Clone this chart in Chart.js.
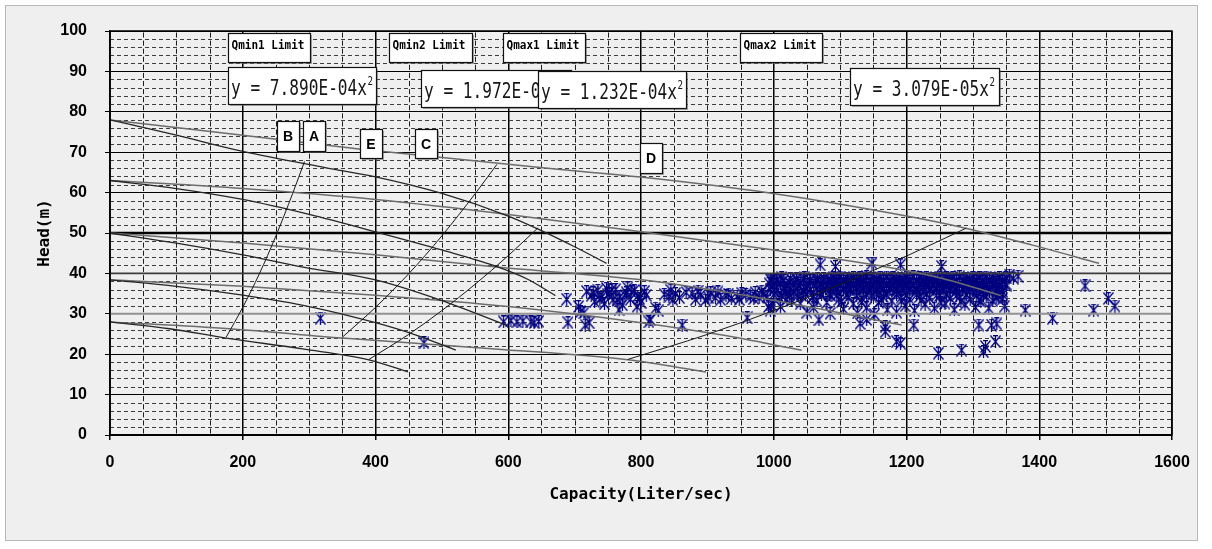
<!DOCTYPE html>
<html>
<head>
<meta charset="utf-8">
<title>Pump operating points</title>
<script src="https://cdn.jsdelivr.net/npm/chart.js@4.4.1/dist/chart.umd.min.js"></script>
<style>
  html, body { margin: 0; padding: 0; background: #fff; }
  #wrap { width: 1212px; height: 549px; position: relative; }
</style>
</head>
<body>
<div id="wrap"><canvas id="pumpChart"></canvas></div>
<script>
// axes: capacity (l/s) on x, head (m) on y
const capacityTicks = [0, 200, 400, 600, 800, 1000, 1200, 1400, 1600];
const headTicks = [0, 10, 20, 30, 40, 50, 60, 70, 80, 90, 100];

// pump curves, one pump and two pumps for each shut-off head
const pump78Q  = [0, 100, 200, 324, 400, 500, 600, 650, 700, 748];
const pump78H  = [78, 74.2, 70.2, 66.2, 63.9, 59.8, 54.2, 50.6, 46.6, 42.5];
const pump78Q2 = [0, 200, 375, 648, 803, 994, 1200, 1289, 1390, 1490];
const pump78H2 = [78, 74.2, 70.8, 66.2, 63.8, 59.9, 54.2, 51.2, 47, 42.5];

const pump63Q  = [0, 100, 200, 300, 400, 500, 586, 630, 671];
const pump63H  = [63, 61, 58.3, 54.6, 50.3, 45.8, 41.5, 38.5, 34.5];
const pump63Q2 = [0, 200, 400, 600, 800, 1000, 1172, 1260, 1342];
const pump63H2 = [63, 61, 58.3, 54.6, 50.3, 45.8, 41.5, 38.5, 34.5];

const pump50Q  = [0, 100, 200, 293, 400, 498, 597];
const pump50H  = [50, 47.5, 44.6, 41.5, 38.4, 33.4, 27.2];
const pump50Q2 = [0, 200, 400, 586, 801, 997, 1193];
const pump50H2 = [50, 47.5, 44.6, 41.5, 38.4, 33.4, 27.2];

const pump38Q  = [0, 100, 200, 300, 400, 460, 521];
const pump38H  = [38.4, 36.8, 34.6, 31.8, 27.8, 24.8, 21];
const pump38Q2 = [0, 200, 400, 600, 800, 920, 1042];
const pump38H2 = [38.4, 36.8, 34.6, 31.8, 27.8, 24.8, 21];

const pump28Q  = [0, 90, 175, 290, 390, 449];
const pump28H  = [28, 26.3, 24, 21.3, 18.6, 15.6];
const pump28Q2 = [0, 180, 350, 580, 780, 898];
const pump28H2 = [28, 26.3, 24, 21.3, 18.6, 15.6];

// limit curves y = k x^2
const qmin1Q = [175, 200, 225, 250, 275, 293];
const qmin1H = [24.2, 31.6, 39.9, 49.3, 59.7, 67.7];
const qmin2Q = [350, 400, 450, 500, 550, 583];
const qmin2H = [24.2, 31.6, 39.9, 49.3, 59.7, 67.0];
const qmax1Q = [390, 450, 500, 550, 600, 645];
const qmax1H = [18.7, 24.9, 30.8, 37.3, 44.4, 51.3];
const qmax2Q = [780, 900, 1000, 1100, 1200, 1290];
const qmax2H = [18.7, 24.9, 30.8, 37.3, 44.3, 51.2];

// heavy horizontal reference heads
const refQ = [0, 1600];
const refHead50 = [50, 50];
const refHead40 = [40, 40];
const refHead30 = [30, 30];

// measured operating points [capacity, head]
const operatingPoints = [
  [317,28.9],[473,22.8],
  [593,28.0],[604,28.3],[613,28.0],[622,28.2],[634,28.0],[639,27.8],[646,28.1],
  [688,33.6],[690,27.8],[706,31.8],[709,30.5],[714,30.2],[716,27.2],[718,35.5],[722,27.8],
  [725,34.5],[730,33.0],[735,35.8],[740,34.0],[745,32.5],[748,36.3],[752,35.0],[758,33.5],
  [762,36.0],[767,31.0],[768,34.2],[772,32.2],[778,35.2],[780,36.4],[784,33.6],[790,35.8],
  [794,31.8],[795,34.4],[800,32.8],[805,35.5],
  [728,35.2],[738,33.6],[750,34.8],[756,36.0],[764,33.4],[776,34.6],[786,35.4],[798,33.8],
  [812,28.0],[814,28.6],[822,31.4],[826,30.8],[842,34.2],[845,35.8],[848,33.5],[852,35.0],
  [862,27.2],[877,35.0],[882,33.6],[890,34.6],[897,33.4],[905,35.2],[912,34.0],[920,33.5],
  [928,34.5],[936,33.8],[945,34.4],[952,35.0],[960,29.0],[965,34.2],[972,35.3],[978,34.0],
  [985,34.8],[992,31.8],[995,30.9],[997,32.2],
  [808,34.6],[835,34.8],[858,34.0],[868,35.3],[886,35.6],[902,34.0],[916,35.4],[932,34.9],
  [948,33.6],[958,34.8],[970,33.8],[982,35.6],[990,34.2],
  [993,37.5],[997,38.6],[1000,35.8],[1004,38.2],[1008,34.0],[1012,38.9],[1016,36.6],[1018,35.0],
  [1020,33.5],[1024,37.8],[1027,33.4],[1030,35.5],[1034,38.7],[1038,36.9],[1042,34.5],[1045,35.8],
  [1046,38.9],[1050,36.3],[1054,38.4],[1058,34.0],[1062,37.4],[1065,33.2],[1066,38.8],[1070,35.2],
  [1074,37.9],[1078,36.2],[1082,38.6],[1086,34.6],[1090,37.2],
  [995,38.4],[1005,38.6],[1015,38.3],[1025,38.7],[1035,38.4],[1045,38.6],[1055,38.2],[1065,38.5],
  [1075,38.7],[1085,38.4],
  [1000,37.2],[1010,37.4],[1020,37.1],[1030,37.3],[1040,37.5],[1050,37.2],[1060,37.0],[1070,37.4],
  [1080,37.2],[1088,37.5],
  [995,36.0],[1005,35.8],[1015,36.2],[1025,35.9],[1035,36.1],[1045,35.7],[1055,36.0],[1065,36.2],
  [1075,35.8],[1085,36.1],
  [1000,34.8],[1012,34.5],[1024,34.9],[1036,34.6],[1048,34.8],[1060,34.4],[1072,34.7],[1084,34.9],
  [1070,42.1],[1093,41.7],
  [1010,31.8],[1040,32.5],[1060,31.5],[1080,32.8],[1068,28.5],[1050,30.4],[1085,30.1],
  [1090,38.9],[1100,39.1],[1110,38.8],[1120,39.0],[1130,38.9],[1140,39.2],[1150,38.8],[1160,39.0],
  [1170,39.1],[1180,38.9],[1190,38.8],[1200,39.0],[1210,39.2],[1220,38.9],[1230,39.0],[1240,38.8],
  [1250,39.1],[1260,38.9],[1270,39.0],[1280,39.2],[1290,38.8],[1300,39.0],[1310,38.9],[1320,39.1],
  [1330,38.8],[1340,39.0],[1350,38.9],
  [1095,38.4],[1105,38.5],[1115,38.3],[1125,38.4],[1135,38.6],[1145,38.3],[1155,38.5],[1165,38.4],
  [1175,38.3],[1185,38.6],[1195,38.4],[1205,38.5],[1215,38.3],[1225,38.4],[1235,38.6],[1245,38.3],
  [1255,38.4],[1265,38.5],[1275,38.3],[1285,38.4],[1295,38.6],[1305,38.4],[1315,38.3],[1325,38.5],
  [1335,38.4],[1345,38.3],
  [1095,37.9],[1105,38.1],[1115,37.8],[1125,38.0],[1135,37.9],[1145,38.2],[1155,37.8],[1165,38.0],
  [1175,38.1],[1185,37.9],[1195,37.8],[1205,38.0],[1215,38.2],[1225,37.9],[1235,38.0],[1245,37.8],
  [1255,38.1],[1265,37.9],[1275,38.0],[1285,38.2],[1295,37.8],[1305,38.0],[1315,37.9],[1325,38.1],
  [1335,37.8],[1345,38.0],
  [1090,37.4],[1100,37.5],[1110,37.3],[1120,37.4],[1130,37.6],[1140,37.3],[1150,37.4],[1160,37.5],
  [1170,37.3],[1180,37.4],[1190,37.6],[1200,37.4],[1210,37.3],[1220,37.5],[1230,37.4],[1240,37.3],
  [1250,37.5],[1260,37.4],[1270,37.6],[1280,37.3],[1290,37.4],[1300,37.5],[1310,37.3],[1320,37.4],
  [1330,37.6],[1340,37.3],[1350,37.4],
  [1090,36.9],[1100,37.1],[1110,36.8],[1120,37.0],[1130,36.7],[1140,37.1],[1150,36.9],[1160,36.8],
  [1170,37.0],[1180,36.9],[1190,37.1],[1200,36.8],[1210,37.0],[1220,36.9],[1230,36.7],[1240,37.1],
  [1250,36.9],[1260,37.0],[1270,36.8],[1280,37.1],[1290,36.9],[1300,36.7],[1310,37.0],[1320,36.9],
  [1330,37.1],[1340,36.8],[1350,37.0],
  [1095,36.3],[1105,36.4],[1115,36.2],[1125,36.5],[1135,36.3],[1145,36.4],[1155,36.2],[1165,36.3],
  [1175,36.5],[1185,36.3],[1195,36.4],[1205,36.2],[1215,36.3],[1225,36.5],[1235,36.3],[1245,36.4],
  [1255,36.2],[1265,36.3],[1275,36.4],[1285,36.2],[1295,36.3],[1305,36.4],[1315,36.1],[1325,36.0],
  [1335,35.8],[1345,35.5],
  [1095,35.8],[1105,36.0],[1115,35.7],[1125,35.9],[1135,36.1],[1145,35.8],[1155,35.6],[1165,35.9],
  [1175,36.0],[1185,35.7],[1195,35.9],[1205,36.1],[1215,35.8],[1225,35.6],[1235,35.9],[1245,36.0],
  [1255,35.7],[1265,35.9],[1275,35.8],[1285,36.0],[1295,35.6],[1305,35.9],[1315,35.7],[1325,35.5],
  [1335,35.2],[1345,34.8],
  [1095,34.6],[1110,34.8],[1125,34.5],[1140,34.7],[1155,34.9],[1170,34.6],[1185,34.8],[1200,34.5],
  [1215,34.7],[1230,34.9],[1245,34.6],[1260,34.8],[1275,34.5],[1290,34.7],[1305,34.6],[1320,34.3],
  [1335,34.0],
  [1102,33.0],[1132,32.8],[1162,33.4],[1192,33.2],[1222,33.3],[1252,32.7],[1282,33.0],[1312,33.1],
  [1098,33.5],[1105,31.2],[1112,34.0],[1120,32.5],[1126,30.2],[1133,33.8],[1140,31.5],[1147,34.4],
  [1152,29.8],[1158,32.8],[1165,34.2],[1171,31.0],[1178,33.2],[1185,30.4],[1192,34.1],[1198,32.0],
  [1205,33.6],[1212,30.8],[1220,34.3],[1228,32.4],[1235,33.9],[1242,31.4],[1250,34.5],[1258,32.6],
  [1266,33.8],[1272,31.0],[1280,34.2],[1288,32.3],[1296,33.6],[1304,31.6],[1309,33.4],[1316,34.6],
  [1324,31.4],[1330,33.2],[1338,34.4],[1348,31.9],[1345,33.7],
  [1130,27.6],[1140,28.6],[1168,26.8],[1168,25.6],[1185,23.1],[1191,22.7],[1211,27.2],[1248,20.2],
  [1283,21.0],[1309,27.2],[1316,20.6],[1319,21.9],[1328,27.2],[1334,23.1],[1336,27.5],
  [1148,42.5],[1191,42.1],[1253,41.7],
  [1355,39.6],[1361,38.8],[1368,39.3],[1379,30.9],[1420,28.9],[1469,36.9],[1482,30.9],[1504,33.8],
  [1514,31.9]
];

function toXY(qs, hs) {
  return qs.map((q, i) => ({ x: q, y: hs[i] }));
}

function curve(label, qs, hs, color, width) {
  return {
    label: label,
    data: toXY(qs, hs),
    showLine: true,
    borderColor: color,
    borderWidth: width,
    pointRadius: 0,
    pointHoverRadius: 0,
    cubicInterpolationMode: 'monotone',
    fill: false
  };
}

// excel-like "*" marker
function starMarker() {
  const c = document.createElement('canvas');
  c.width = 11;
  c.height = 13;
  const g = c.getContext('2d');
  g.strokeStyle = '#00007f';
  g.lineWidth = 1.25;
  g.beginPath();
  g.moveTo(0.5, 0.5); g.lineTo(10.5, 12.5);
  g.moveTo(10.5, 0.5); g.lineTo(0.5, 12.5);
  g.moveTo(5.5, 0); g.lineTo(5.5, 13);
  g.moveTo(3, 0.7); g.lineTo(8, 0.7);
  g.stroke();
  return c;
}

// squeeze text horizontally so it fills a given width (narrow japanese-style font)
function squeezeText(ctx, text, x, y, font, width) {
  ctx.font = font;
  const w = ctx.measureText(text).width;
  ctx.save();
  ctx.translate(x, y);
  ctx.scale(width / w, 1);
  ctx.fillText(text, 0, 0);
  ctx.restore();
}

const panelPlugin = {
  id: 'panel',
  beforeDraw(chart) {
    const ctx = chart.ctx;
    ctx.save();
    ctx.fillStyle = '#ffffff';
    ctx.fillRect(0, 0, chart.width, chart.height);
    ctx.fillStyle = '#efefef';
    ctx.fillRect(5, 5, 1193, 536);
    ctx.strokeStyle = '#b8b8b8';
    ctx.lineWidth = 1;
    ctx.strokeRect(5.5, 5.5, 1192, 535);
    ctx.restore();
  }
};

const minorGridPlugin = {
  id: 'minorGrid',
  beforeDatasetsDraw(chart) {
    const { ctx, chartArea: a, scales: { x, y } } = chart;
    ctx.save();
    ctx.lineWidth = 1;
    ctx.strokeStyle = '#3c3c3c';
    ctx.setLineDash([4, 3]);
    for (let h = 2; h < 100; h += 2) {
      if (h % 10 === 0) continue;
      const py = Math.round(y.getPixelForValue(h)) + 0.5;
      ctx.beginPath();
      ctx.moveTo(a.left, py);
      ctx.lineTo(a.right, py);
      ctx.stroke();
    }
    ctx.setLineDash([]);
    ctx.strokeStyle = '#1e1e1e';
    for (let q = 50; q < 1600; q += 50) {
      if (q % 200 === 0) continue;
      const px = Math.round(x.getPixelForValue(q)) + 0.5;
      ctx.beginPath();
      for (let h = 0; h < 100; h += 2) {
        ctx.moveTo(px, y.getPixelForValue(h) - 1.5);
        ctx.lineTo(px, y.getPixelForValue(h + 2) + 1.5);
      }
      ctx.stroke();
    }
    ctx.restore();
  }
};

const framePlugin = {
  id: 'frame',
  afterDatasetsDraw(chart) {
    const { ctx, chartArea: a } = chart;
    ctx.save();
    ctx.strokeStyle = '#000';
    ctx.lineWidth = 1.5;
    ctx.strokeRect(a.left, a.top, a.right - a.left, a.bottom - a.top);
    ctx.restore();
  }
};

const boxLabelPlugin = {
  id: 'boxLabels',
  afterDraw(chart, args, opts) {
    const { ctx, scales: { x, y } } = chart;
    ctx.save();
    opts.boxes.forEach(b => {
      const left = Math.round(x.getPixelForValue(b.q));
      const top = Math.round(y.getPixelForValue(b.h));
      ctx.fillStyle = 'rgba(110,110,110,0.55)';
      ctx.fillRect(left + 2, top + 2, b.w, b.ht);
      ctx.fillStyle = '#ffffff';
      ctx.fillRect(left, top, b.w, b.ht);
      ctx.strokeStyle = '#111';
      ctx.lineWidth = 1.2;
      ctx.strokeRect(left + 0.5, top + 0.5, b.w, b.ht);
      ctx.fillStyle = '#000';
      ctx.textBaseline = 'alphabetic';
      ctx.textAlign = 'left';
      if (b.kind === 'limit') {
        squeezeText(ctx, b.text, left + 3.5, top + 15.5, "bold 12px 'DejaVu Sans Mono', monospace", 73);
      } else if (b.kind === 'eq') {
        ctx.fillStyle = '#161616';
        squeezeText(ctx, b.text, left + 3, top + 28, "22px 'DejaVu Sans Mono', monospace", 136);
        squeezeText(ctx, '2', left + 139.5, top + 17.5, "12px 'DejaVu Sans Mono', monospace", 5.5);
      } else {
        ctx.font = "bold 14px 'Liberation Sans', Arial, sans-serif";
        ctx.textAlign = 'center';
        ctx.fillText(b.text, left + b.w / 2, top + 20);
      }
    });
    ctx.restore();
  }
};

const tickFont = { family: "'Liberation Sans', Arial, sans-serif", size: 16, weight: 'bold' };
const titleFont = { family: "'DejaVu Sans Mono', monospace", size: 16, weight: 'bold' };

const pointsDataset = {
  label: 'Operating points',
  data: operatingPoints.map(p => ({ x: p[0], y: p[1] })),
  showLine: false,
  pointStyle: starMarker(),
  pointRadius: 6,
  pointHoverRadius: 6
};

const ctx = document.getElementById('pumpChart').getContext('2d');
new Chart(ctx, {
  type: 'scatter',
  data: {
    datasets: [
      curve('Qmin1 Limit', qmin1Q, qmin1H, '#1a1a1a', 1),
      curve('Qmin2 Limit', qmin2Q, qmin2H, '#1a1a1a', 1),
      curve('Qmax1 Limit', qmax1Q, qmax1H, '#1a1a1a', 1),
      curve('Qmax2 Limit', qmax2Q, qmax2H, '#1a1a1a', 1),
      curve('78 x1', pump78Q, pump78H, '#262626', 1.3),
      curve('78 x2', pump78Q2, pump78H2, '#6c6c6c', 1.5),
      curve('63 x1', pump63Q, pump63H, '#262626', 1.3),
      curve('63 x2', pump63Q2, pump63H2, '#6c6c6c', 1.5),
      curve('50 x1', pump50Q, pump50H, '#262626', 1.3),
      curve('50 x2', pump50Q2, pump50H2, '#6c6c6c', 1.5),
      curve('38 x1', pump38Q, pump38H, '#262626', 1.3),
      curve('38 x2', pump38Q2, pump38H2, '#6c6c6c', 1.5),
      curve('28 x1', pump28Q, pump28H, '#262626', 1.3),
      curve('28 x2', pump28Q2, pump28H2, '#6c6c6c', 1.5),
      curve('H50', refQ, refHead50, '#000000', 2.3),
      curve('H40', refQ, refHead40, '#3c3c3c', 1.8),
      curve('H30', refQ, refHead30, '#929292', 2),
      pointsDataset
    ]
  },
  options: {
    responsive: true,
    maintainAspectRatio: false,
    animation: false,
    events: [],
    layout: { padding: { left: 20, top: 31, right: 40, bottom: 39 } },
    plugins: {
      legend: { display: false },
      tooltip: { enabled: false },
      boxLabels: {
        boxes: [
          { kind: 'limit', text: 'Qmin1 Limit', q: 177.3, h: 99.4, w: 82, ht: 29 },
          { kind: 'limit', text: 'Qmin2 Limit', q: 419.9, h: 99.4, w: 83, ht: 29 },
          { kind: 'limit', text: 'Qmax1 Limit', q: 592.5, h: 99.4, w: 82, ht: 29 },
          { kind: 'limit', text: 'Qmax2 Limit', q: 949.2, h: 99.4, w: 82, ht: 29 },
          { kind: 'eq', text: 'y = 7.890E-04x', q: 177.3, h: 91.2, w: 148, ht: 37 },
          { kind: 'eq', text: 'y = 1.972E-04x', q: 468.5, h: 90.3, w: 150, ht: 37 },
          { kind: 'eq', text: 'y = 1.232E-04x', q: 645.3, h: 90.2, w: 148, ht: 37 },
          { kind: 'eq', text: 'y = 3.079E-05x', q: 1114.9, h: 90.8, w: 149, ht: 37 },
          { kind: 'letter', text: 'B', q: 251.1, h: 77.6, w: 22, ht: 30 },
          { kind: 'letter', text: 'A', q: 291.2, h: 77.6, w: 22, ht: 30 },
          { kind: 'letter', text: 'E', q: 376.6, h: 75.7, w: 22, ht: 29 },
          { kind: 'letter', text: 'C', q: 459.5, h: 75.7, w: 22, ht: 29 },
          { kind: 'letter', text: 'D', q: 798.5, h: 72.2, w: 22, ht: 30 }
        ]
      }
    },
    scales: {
      x: {
        type: 'linear',
        min: 0,
        max: 1600,
        afterBuildTicks: s => { s.ticks = capacityTicks.map(v => ({ value: v })); },
        afterFit: s => { s.height = 75; },
        ticks: { font: tickFont, color: '#000', padding: 13, maxRotation: 0, autoSkip: false, callback: v => String(v) },
        grid: { color: '#000', lineWidth: 1.5, tickLength: 5, tickColor: '#000' },
        border: { color: '#000', width: 1.5 },
        title: { display: true, text: 'Capacity(Liter/sec)', font: titleFont, color: '#000', padding: { top: 0, bottom: 6 } }
      },
      y: {
        type: 'linear',
        min: 0,
        max: 100,
        afterBuildTicks: s => { s.ticks = headTicks.map(v => ({ value: v })); },
        afterFit: s => { s.width = 90; },
        ticks: { font: tickFont, color: '#000', padding: 18, autoSkip: false, callback: v => String(v) },
        grid: { color: '#000', lineWidth: 1, tickLength: 5, tickColor: '#000' },
        border: { color: '#000', width: 1.5 },
        title: { display: true, text: 'Head(m)', font: titleFont, color: '#000', padding: { top: 15, bottom: 0 } }
      }
    }
  },
  plugins: [panelPlugin, minorGridPlugin, framePlugin, boxLabelPlugin]
});
</script>
</body>
</html>
